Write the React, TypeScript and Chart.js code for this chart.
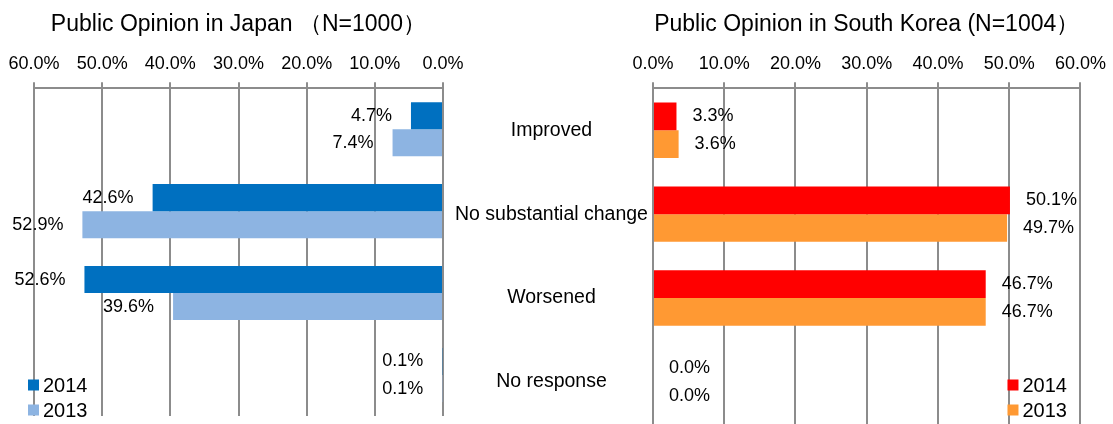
import React, { useEffect, useRef } from 'react';
import { Chart, registerables } from 'chart.js';

Chart.register(...registerables);

const categories = ['Improved', 'No substantial change', 'Worsened', 'No response'];
const seriesYears = ['2014', '2013'];
const japan2014 = [4.7, 42.6, 52.6, 0.1];
const japan2013 = [7.4, 52.9, 39.6, 0.1];
const korea2014 = [3.3, 50.1, 46.7, 0.0];
const korea2013 = [3.6, 49.7, 46.7, 0.0];
const tickValues = [0, 10, 20, 30, 40, 50, 60];
const japanTitle = 'Public Opinion in Japan （N=1000）';
const koreaTitle = 'Public Opinion in South Korea (N=1004）';

const japanColors = ['#0070C0', '#8DB4E2'];
const koreaColors = ['#FF0000', '#FF9933'];

const FONT = "'Liberation Sans', Arial, sans-serif";
const GRID = '#8c8c8c';
const fmt = (v: number) => Number(v).toFixed(1) + '%';

const valueLabels = {
  id: 'valueLabels',
  afterDatasetsDraw(chart: any, _args: any, opts: any) {
    const ctx = chart.ctx;
    ctx.save();
    ctx.font = `${opts.size}px ${FONT}`;
    ctx.fillStyle = '#000';
    ctx.textBaseline = 'middle';
    ctx.textAlign = opts.side === 'left' ? 'right' : 'left';
    chart.data.datasets.forEach((ds: any, di: number) => {
      const meta = chart.getDatasetMeta(di);
      meta.data.forEach((bar: any, i: number) => {
        const x = opts.side === 'left' ? bar.x - opts.gap : bar.x + opts.gap;
        ctx.fillText(fmt(ds.data[i]), x, bar.y);
      });
    });
    ctx.restore();
  },
};

const boxLegend = {
  id: 'boxLegend',
  afterDraw(chart: any, _args: any, opts: any) {
    const { ctx, chartArea } = chart;
    const x0 = opts.anchor === 'left' ? chartArea.left + opts.dx : chartArea.right + opts.dx;
    ctx.save();
    chart.data.datasets.forEach((ds: any, i: number) => {
      const y = chartArea.bottom + opts.dy + i * opts.rowGap;
      ctx.fillStyle = ds.backgroundColor;
      ctx.fillRect(x0, y - opts.box / 2, opts.box, opts.box);
      ctx.fillStyle = '#000';
      ctx.font = `${opts.size}px ${FONT}`;
      ctx.textAlign = 'left';
      ctx.textBaseline = 'middle';
      ctx.fillText(ds.label, x0 + opts.box + 4, y + 1);
    });
    ctx.restore();
  },
};

function makeConfig(side: 'left' | 'right'): any {
  const isLeft = side === 'left';
  const vals = isLeft ? [japan2014, japan2013] : [korea2014, korea2013];
  const colors = isLeft ? japanColors : koreaColors;
  return {
    type: 'bar',
    data: {
      labels: categories,
      datasets: seriesYears.map((yr, i) => ({
        label: yr,
        data: vals[i],
        backgroundColor: colors[i],
        borderWidth: 0,
        categoryPercentage: 0.66,
        barPercentage: 1,
      })),
    },
    plugins: [valueLabels, boxLegend],
    options: {
      indexAxis: 'y',
      responsive: true,
      maintainAspectRatio: false,
      animation: false,
      layout: {
        padding: isLeft
          ? { left: 34, right: 27, top: 0, bottom: 8 }
          : { left: 5, right: 32, top: 0, bottom: 0 },
      },
      scales: {
        x: {
          position: 'top',
          reverse: isLeft,
          min: 0,
          max: 60,
          afterBuildTicks: (scale: any) => {
            scale.ticks = tickValues.map((v) => ({ value: v }));
          },
          ticks: {
            callback: (v: any) => fmt(v),
            font: { size: 18, family: FONT },
            color: '#000',
            padding: 7,
            maxRotation: 0,
          },
          grid: { color: GRID, lineWidth: 2, tickLength: 6, drawTicks: true },
          border: { color: GRID, width: 2 },
        },
        y: isLeft
          ? { display: false }
          : {
              ticks: {
                crossAlign: 'center',
                padding: 5,
                font: { size: 19.5, family: FONT },
                color: '#000',
              },
              grid: { display: false, drawTicks: false },
              border: { display: false },
              afterFit: (scale: any) => {
                scale.paddingTop = 0;
                scale.paddingBottom = 0;
              },
            },
      },
      plugins: {
        legend: { display: false },
        tooltip: { enabled: false },
        title: {
          display: true,
          text: isLeft ? japanTitle : koreaTitle,
          fullSize: false,
          color: '#000',
          font: { size: 23, weight: 'normal', family: FONT },
          padding: { top: 11, bottom: 8 },
        },
        valueLabels: { side, gap: isLeft ? 19 : 16, size: 18 },
        boxLegend: isLeft
          ? { anchor: 'left', dx: -6, dy: -31, rowGap: 25, box: 11, size: 20 }
          : { anchor: 'right', dx: -73, dy: -39, rowGap: 25, box: 11, size: 20 },
      },
    },
  };
}

function ChartBox({ side, style }: { side: 'left' | 'right'; style: React.CSSProperties }) {
  const ref = useRef<HTMLCanvasElement | null>(null);
  useEffect(() => {
    if (!ref.current) return;
    const chart = new Chart(ref.current, makeConfig(side));
    return () => chart.destroy();
  }, [side]);
  return (
    <div style={{ position: 'absolute', ...style }}>
      <canvas ref={ref} />
    </div>
  );
}

export default function App() {
  return (
    <div
      style={{
        position: 'fixed',
        left: 0,
        top: 0,
        width: 1113,
        height: 424,
        background: '#fff',
        overflow: 'hidden',
      }}
    >
      <ChartBox side="left" style={{ left: 0, top: 0, width: 470, height: 424 }} />
      <ChartBox side="right" style={{ left: 445, top: 0, width: 668, height: 424 }} />
    </div>
  );
}
